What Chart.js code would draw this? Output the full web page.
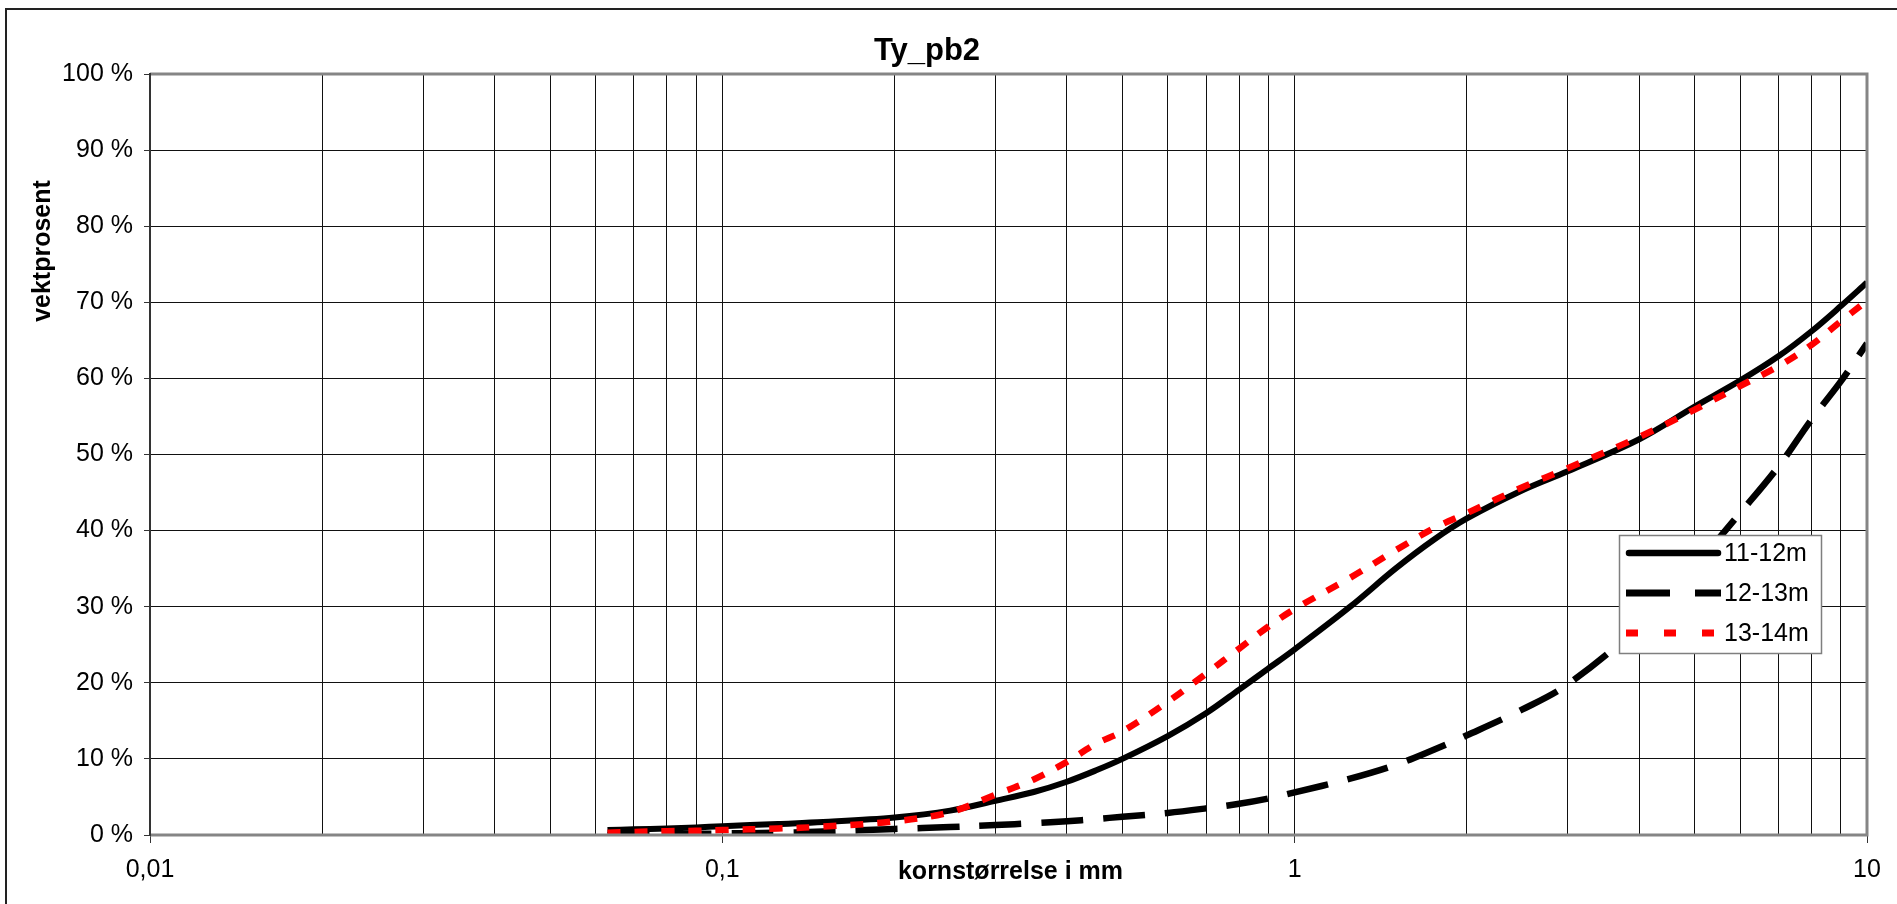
<!DOCTYPE html>
<html>
<head>
<meta charset="utf-8">
<script src="https://cdn.jsdelivr.net/npm/chart.js@4.4.1/dist/chart.umd.min.js"></script>
<style>
html,body{margin:0;padding:0;background:#fff;overflow:hidden}
#wrap{position:absolute;left:0;top:0;width:1897px;height:904px}
</style>
</head>
<body>
<div id="wrap"><canvas id="c" width="1897" height="904"></canvas></div>
<script>
// ---- data ----
const chartTitle = 'Ty_pb2';
const xAxisTitle = 'kornstørrelse i mm';
const yAxisTitle = 'vektprosent';
const seriesNames = ['11-12m', '12-13m', '13-14m'];

const grainSizes = [0.063, 0.07, 0.08, 0.09, 0.1, 0.125, 0.15, 0.2, 0.25, 0.3, 0.35, 0.4, 0.45, 0.5, 0.6, 0.7, 0.8, 0.9, 1, 1.25, 1.5, 1.75, 2, 2.5, 3, 4, 5, 6, 7, 8, 9, 10];
const pass_11_12 = [0.65, 0.75, 0.85, 1.0, 1.15, 1.45, 1.7, 2.3, 3.2, 4.5, 5.65, 7.0, 8.5, 10.0, 13.0, 16.0, 19.1, 21.9, 24.4, 30.0, 35.0, 38.8, 41.6, 45.3, 47.8, 52.0, 56.3, 59.7, 62.9, 66.2, 69.5, 72.6];
const pass_12_13 = [0.0, 0.05, 0.1, 0.15, 0.2, 0.3, 0.45, 0.8, 1.05, 1.3, 1.55, 1.8, 2.1, 2.4, 2.9, 3.5, 4.1, 4.8, 5.6, 7.4, 9.2, 11.2, 13.1, 16.5, 19.8, 27.5, 35.3, 42.3, 48.4, 54.6, 59.6, 64.6];
const pass_13_14 = [0.3, 0.4, 0.5, 0.55, 0.65, 0.85, 1.1, 1.8, 3.0, 5.3, 7.3, 9.6, 12.0, 13.6, 17.5, 21.2, 24.5, 27.4, 29.7, 33.8, 37.4, 40.3, 42.3, 45.7, 48.2, 52.3, 55.9, 59.0, 61.6, 64.4, 67.5, 70.2];

const decadeTicks = [0.01, 0.1, 1, 10];
const decadeLabels = ['0,01', '0,1', '1', '10'];
const yTicks = [0, 10, 20, 30, 40, 50, 60, 70, 80, 90, 100];

// ---- styles ----
const FONT = "'Liberation Sans', Arial, sans-serif";
const styles = [
  {color: '#000000', width: 6, dash: [], legendDash: [], cap: 'round'},
  {color: '#000000', width: 6.5, dash: [42, 20], legendDash: [44, 25], cap: 'butt'},
  {color: '#ff0000', width: 6.5, dash: [13, 14], legendDash: [12, 26], cap: 'butt'}
];
const seriesValues = [pass_11_12, pass_12_13, pass_13_14];
const drawOrder = [1, 2, 0];

// gridline values: 1..9 times each decade, plus the last decade
const gridValues = [];
decadeTicks.forEach((d, i) => {
  if (i === decadeTicks.length - 1) { gridValues.push(d); return; }
  for (let k = 1; k <= 9; k++) gridValues.push(+(d * k).toPrecision(6));
});
const isDecade = v => decadeTicks.some(d => Math.abs(d - v) / d < 1e-6);

const datasets = seriesNames.map((name, s) => ({
  label: name,
  data: grainSizes.map((g, i) => ({x: g, y: seriesValues[s][i]})),
  borderColor: styles[s].color,
  backgroundColor: styles[s].color,
  borderWidth: styles[s].width,
  borderDash: styles[s].dash,
  borderCapStyle: 'butt',
  borderJoinStyle: 'round',
  pointRadius: 0,
  pointHoverRadius: 0,
  fill: false,
  tension: 0.35,
  order: drawOrder[s]
}));

const framePlugin = {
  id: 'frame',
  beforeDraw(chart) {
    const ctx = chart.ctx;
    ctx.save();
    ctx.fillStyle = '#ffffff';
    ctx.fillRect(0, 0, chart.width, chart.height);
    ctx.strokeStyle = '#222222';
    ctx.lineWidth = 2;
    ctx.beginPath();
    ctx.moveTo(6, chart.height + 5);
    ctx.lineTo(6, 9);
    ctx.lineTo(chart.width + 5, 9);
    ctx.stroke();
    ctx.restore();
  },
  afterDatasetsDraw(chart) {
    const ctx = chart.ctx;
    const a = chart.chartArea;
    ctx.save();
    ctx.strokeStyle = '#858585';
    ctx.lineWidth = 3;
    ctx.beginPath();
    ctx.moveTo(a.left, a.top);
    ctx.lineTo(a.right, a.top);
    ctx.lineTo(a.right, a.bottom);
    ctx.lineTo(a.left, a.bottom);
    ctx.stroke();
    ctx.strokeStyle = '#333333';
    ctx.lineWidth = 2;
    ctx.beginPath();
    ctx.moveTo(a.left, a.top - 1);
    ctx.lineTo(a.left, a.bottom + 1);
    ctx.stroke();
    ctx.restore();
  },
  afterDraw(chart) {
    const ctx = chart.ctx;
    const a = chart.chartArea;
    ctx.save();
    ctx.fillStyle = '#000000';
    // main title
    ctx.font = 'bold 31px ' + FONT;
    ctx.textAlign = 'center';
    ctx.textBaseline = 'alphabetic';
    ctx.fillText(chartTitle, 927, 60);
    // x axis title (on the tick-label line)
    ctx.font = 'bold 25px ' + FONT;
    ctx.fillText(xAxisTitle, (a.left + a.right) / 2 + 2, 879);
    // y axis title
    ctx.save();
    ctx.translate(50, 251);
    ctx.rotate(-Math.PI / 2);
    ctx.textAlign = 'center';
    ctx.textBaseline = 'alphabetic';
    ctx.fillText(yAxisTitle, 0, 0);
    ctx.restore();

    // legend
    const lx = 1619, ly = 535, lw = 202, lh = 118;
    ctx.fillStyle = '#ffffff';
    ctx.fillRect(lx, ly, lw, lh);
    ctx.strokeStyle = '#7f7f7f';
    ctx.lineWidth = 1.5;
    ctx.strokeRect(lx + 0.5, ly + 0.5, lw, lh);
    const rows = [553, 593, 633];
    seriesNames.forEach((name, s) => {
      const st = styles[s];
      ctx.save();
      ctx.strokeStyle = st.color;
      ctx.lineWidth = st.width + 0.5;
      ctx.lineCap = st.cap;
      ctx.setLineDash(st.legendDash);
      ctx.beginPath();
      if (st.cap === 'round') {
        ctx.moveTo(lx + 10, rows[s]);
        ctx.lineTo(lx + 99, rows[s]);
      } else {
        ctx.moveTo(lx + 7, rows[s]);
        ctx.lineTo(lx + 102, rows[s]);
      }
      ctx.stroke();
      ctx.restore();
      ctx.fillStyle = '#000000';
      ctx.font = '25px ' + FONT;
      ctx.textAlign = 'left';
      ctx.textBaseline = 'middle';
      ctx.fillText(name, lx + 105, rows[s] + 1);
    });
    ctx.restore();
  }
};

new Chart(document.getElementById('c'), {
  type: 'line',
  data: {datasets},
  plugins: [framePlugin],
  options: {
    responsive: false,
    animation: false,
    devicePixelRatio: 1,
    layout: {padding: {left: 0, top: 74, right: 30, bottom: 0}},
    plugins: {
      legend: {display: false},
      title: {display: false},
      tooltip: {enabled: false}
    },
    scales: {
      x: {
        type: 'logarithmic',
        min: 0.01,
        max: 10,
        afterBuildTicks(scale) {
          scale.ticks = gridValues.map(v => ({value: v, major: isDecade(v)}));
        },
        afterFit(scale) { scale.height = 69; },
        ticks: {
          autoSkip: false,
          maxRotation: 0,
          minRotation: 0,
          padding: 12,
          color: '#000000',
          font: {family: FONT, size: 25},
          callback(value) {
            const i = decadeTicks.findIndex(d => Math.abs(d - value) / d < 1e-6);
            return i >= 0 ? decadeLabels[i] : '';
          }
        },
        grid: {
          color: '#111111',
          lineWidth: 1,
          drawTicks: true,
          tickLength: 8,
          tickColor: ctx => (ctx.tick && isDecade(ctx.tick.value)) ? '#333333' : 'rgba(0,0,0,0)'
        },
        border: {display: false}
      },
      y: {
        type: 'linear',
        min: 0,
        max: 100,
        afterBuildTicks(scale) {
          scale.ticks = yTicks.map(v => ({value: v}));
        },
        afterFit(scale) { scale.width = 150; },
        ticks: {
          padding: 11,
          color: '#000000',
          font: {family: FONT, size: 25},
          callback: v => v + ' %'
        },
        grid: {
          color: '#111111',
          lineWidth: 1,
          drawTicks: true,
          tickLength: 6,
          tickColor: '#333333'
        },
        border: {display: true, color: '#333333', width: 2}
      }
    }
  }
});
</script>
</body>
</html>
